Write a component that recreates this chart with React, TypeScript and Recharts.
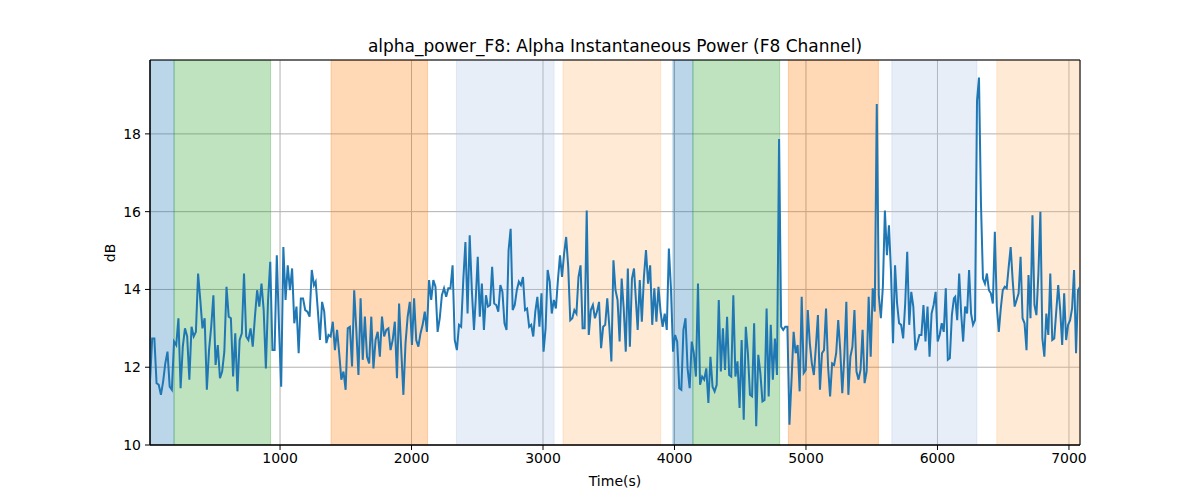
import React from 'react';
import { LineChart, Line, XAxis, YAxis, CartesianGrid, ReferenceArea } from 'recharts';

const TITLE = 'alpha_power_F8: Alpha Instantaneous Power (F8 Channel)';
const X_LABEL = 'Time(s)';
const Y_LABEL = 'dB';

const xTicks = [1000, 2000, 3000, 4000, 5000, 6000, 7000];
const yTicks = [10, 12, 14, 16, 18];
const xDomain = [11, 7084];
const yDomain = [10, 19.9];

// power values (dB), read piecewise across the time axis
const seg1 = [
  11.63, 12.74, 12.74, 11.59, 11.55, 11.29, 11.63, 12.10, 12.40, 11.50,
  11.42, 12.66, 12.57, 13.26, 11.46, 12.53, 13.00, 12.79, 11.68, 13.04,
  12.79, 12.91, 14.41, 13.73, 13.00, 13.26, 11.42, 12.44, 13.04, 13.85,
  12.06, 12.57, 11.72, 11.89, 12.40, 14.07, 13.30, 13.26, 11.76, 12.87,
  11.38, 12.70, 12.87, 14.41, 12.79, 12.70, 13.00, 12.53, 13.30, 13.98,
  13.56, 14.15, 13.47, 11.97, 13.73, 14.71, 12.44, 12.44, 14.88, 13.04,
  11.50, 15.09, 13.73, 14.62, 13.98, 14.54, 13.13, 13.56, 12.36, 13.77,
  13.77, 13.47, 13.43, 13.30, 14.50, 14.11,
];
const seg2 = [
  14.20, 13.47, 12.70, 13.68, 13.43, 12.62, 12.83, 12.79, 13.17, 12.44,
  12.96, 12.36, 11.68, 11.89, 11.42, 13.00, 13.04, 12.02, 13.98, 12.96,
  11.80, 13.77, 12.19, 13.30, 12.27, 12.10, 13.30, 11.97, 12.70, 12.91,
  12.27, 13.30, 12.79, 12.96, 13.00, 12.44, 12.70, 13.17, 11.72, 13.64,
  12.44, 11.29, 12.62, 13.30, 13.68, 12.57, 13.77, 12.70, 12.53, 12.87,
  13.09, 13.43, 12.91, 14.24, 13.73, 14.24, 14.07, 12.91, 13.26, 13.85,
  14.03, 13.81, 14.03, 14.03, 14.62, 12.70, 12.44, 13.09, 13.04, 14.24,
  15.22, 13.38, 15.39, 13.98, 12.96,
];
const seg3 = [
  13.73, 14.84, 13.30, 14.15, 12.96, 13.85, 13.56, 13.60, 14.58, 13.64,
  13.60, 13.43, 14.11, 13.94, 13.13, 12.96, 15.01, 15.56, 13.47, 13.60,
  13.98, 14.20, 14.11, 14.32, 13.47, 13.51, 13.04, 13.09, 12.79, 13.43,
  13.81, 13.04, 13.90, 12.40, 13.00, 14.50, 14.20, 13.38, 13.73, 13.51,
  14.24, 14.88, 14.32, 14.92, 15.35, 14.58, 13.21, 13.26, 13.47, 13.38,
  14.32, 14.62, 13.00, 13.00, 16.03, 12.83, 13.47, 13.60, 13.26, 13.43,
  13.68, 12.49, 13.04, 13.09, 13.77, 13.04, 12.15, 14.75, 13.98, 13.73,
  12.66, 14.28, 13.51, 12.40, 14.54, 12.53, 14.28, 14.54,
];
const seg4 = [
  12.96, 14.24, 13.17, 14.32, 15.01, 14.15, 14.62, 13.09, 14.03, 13.17,
  14.07, 13.43, 13.04, 13.38, 12.96, 15.05, 14.03, 12.40, 12.83, 12.66,
  11.46, 11.42, 12.96, 13.26, 11.97, 11.46, 12.66, 12.36, 11.76, 14.15,
  11.55, 11.76, 11.68, 11.97, 11.08, 12.27, 11.50, 11.38, 11.55, 13.73,
  11.89, 13.00, 11.93, 13.30, 11.80, 11.76, 13.85, 11.76, 12.15, 10.95,
  12.70, 10.65, 13.04, 12.36, 11.29, 11.25, 13.13, 10.48, 12.32, 11.85,
  11.12, 11.16, 13.51, 11.25, 13.09, 11.68, 12.74, 11.80, 17.87, 13.04,
  12.96, 13.04, 13.04, 10.52, 11.68, 12.91,
];
const seg5 = [
  12.36, 12.57, 11.38, 13.81, 11.85, 11.93, 13.47, 12.62, 12.10, 11.80,
  12.53, 13.34, 11.42, 12.36, 12.44, 13.51, 12.02, 11.25, 12.10, 12.06,
  12.36, 13.21, 12.44, 11.33, 12.27, 13.68, 11.29, 12.27, 12.53, 13.47,
  11.89, 11.68, 11.93, 12.96, 11.59, 11.89, 13.81, 12.27, 14.03, 13.43,
  18.77, 13.85, 13.26, 14.07, 16.03, 14.88, 15.65, 14.45, 12.62, 14.62,
  13.64, 13.13, 13.09, 12.74, 13.64, 14.97, 13.09, 13.94, 13.56, 12.44,
  12.62, 12.83, 12.83, 13.60, 12.66, 13.56, 12.27, 13.38, 13.60, 13.94,
  12.66, 12.83, 13.13, 12.91, 14.03, 12.19, 12.23, 13.34, 13.77,
];
const seg6 = [
  13.81, 13.21, 14.41, 13.38, 12.66, 13.56, 13.38, 14.50, 13.38, 13.09,
  13.21, 18.85, 19.45, 16.21, 14.28, 14.15, 14.41, 13.98, 13.90, 13.64,
  15.48, 13.56, 12.91, 13.51, 13.98, 14.07, 14.03, 14.58, 15.09, 14.24,
  13.56, 13.73, 13.90, 14.84, 13.26, 13.13, 12.44, 14.37, 13.26, 15.91,
  13.60, 13.34, 14.41, 16.00, 12.74, 12.27, 13.38, 12.83, 14.41, 12.70,
  12.74, 13.43, 14.11, 13.47, 12.57, 13.90, 12.70, 13.09, 13.21, 13.51,
  14.50, 12.36, 13.98, 14.07,
];
const segments = [seg1, seg2, seg3, seg4, seg5, seg6];
// first and last time (s) covered by each piece
const segStart = [11, 1271, 2488, 3720, 4921, 6135];
const segEnd = [1258, 2475, 3692, 4906, 6125, 7084];

// shaded intervals
const spanStart = [11, 194, 1388, 2342, 3152, 3988, 4140, 4866, 5653, 6451];
const spanEnd = [194, 928, 2122, 3084, 3895, 4140, 4800, 5551, 6300, 7084];
const spanColor = ['#1f77b4', '#2ca02c', '#ff7f0e', '#aec7e8', '#ffbb78', '#1f77b4', '#2ca02c', '#ff7f0e', '#aec7e8', '#ffbb78'];

const data = segments.flatMap((vals, s) =>
  vals.map((v, i) => ({
    t: segStart[s] + ((segEnd[s] - segStart[s]) * i) / (vals.length - 1),
    v,
  }))
);

const FONT = 'DejaVu Sans, sans-serif';

export default function App() {
  return (
    <div style={{ position: 'absolute', left: 0, top: 0, width: 1200, height: 500, background: '#fff', fontFamily: FONT }}>
      <LineChart width={1200} height={500} data={data} margin={{ top: 60, right: 120, bottom: 25, left: 90 }}>
        {spanStart.map((s, i) => (
          <ReferenceArea
            key={i}
            x1={s}
            x2={spanEnd[i]}
            y1={yDomain[0]}
            y2={yDomain[1]}
            fill={spanColor[i]}
            fillOpacity={0.3}
            stroke={spanColor[i]}
            strokeOpacity={0.3}
            strokeWidth={1}
            ifOverflow="hidden"
          />
        ))}
        <CartesianGrid stroke="#b0b0b0" strokeWidth={1} vertical horizontal />
        <XAxis
          dataKey="t"
          type="number"
          domain={xDomain}
          ticks={xTicks}
          allowDataOverflow
          height={30}
          tickSize={5}
          tickMargin={3}
          stroke="#000"
          tick={{ fill: '#000', fontSize: 14, fontFamily: FONT }}
          tickLine={{ stroke: '#000' }}
          axisLine={{ stroke: '#000' }}
        />
        <YAxis
          type="number"
          domain={yDomain}
          ticks={yTicks}
          allowDataOverflow
          width={60}
          tickSize={5}
          tickMargin={4}
          stroke="#000"
          tick={{ fill: '#000', fontSize: 14, fontFamily: FONT }}
          tickLine={{ stroke: '#000' }}
          axisLine={{ stroke: '#000' }}
        />
        <ReferenceArea
          x1={xDomain[0]}
          x2={xDomain[1]}
          y1={yDomain[0]}
          y2={yDomain[1]}
          fill="none"
          stroke="#000"
          strokeWidth={1}
        />
        <Line
          type="linear"
          dataKey="v"
          stroke="#1f77b4"
          strokeWidth={2}
          dot={false}
          isAnimationActive={false}
        />
      </LineChart>
      <div style={{ position: 'absolute', left: 0, width: 1230, top: 35, textAlign: 'center', fontSize: 17, lineHeight: '22px', color: '#000' }}>
        {TITLE}
      </div>
      <div style={{ position: 'absolute', left: 0, width: 1230, top: 472, textAlign: 'center', fontSize: 14, lineHeight: '18px', color: '#000' }}>
        {X_LABEL}
      </div>
      <div
        style={{
          position: 'absolute',
          left: 80,
          top: 244,
          width: 60,
          textAlign: 'center',
          fontSize: 14,
          lineHeight: '18px',
          color: '#000',
          transform: 'rotate(-90deg)',
        }}
      >
        {Y_LABEL}
      </div>
    </div>
  );
}
